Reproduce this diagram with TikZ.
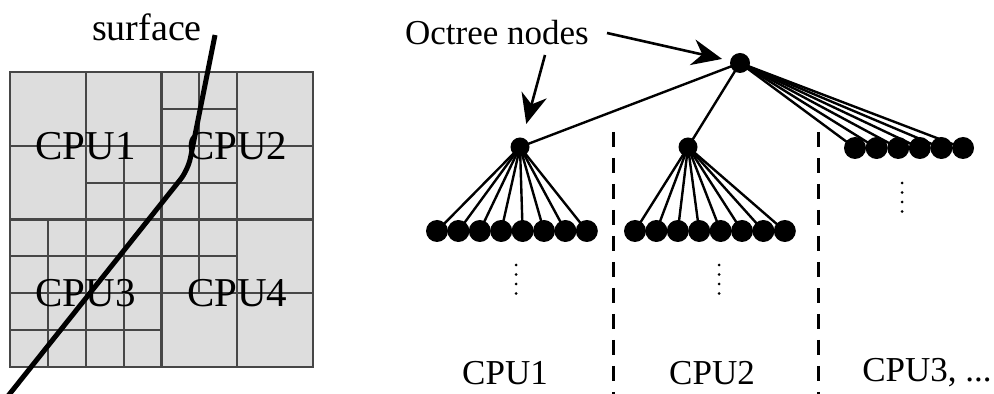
\documentclass[tikz,border=0pt]{standalone}
\usepackage{fontspec}
\setmainfont{Liberation Serif}
\definecolor{cellgray}{RGB}{221, 221, 221}
\definecolor{gridgray}{RGB}{70, 70, 70}
\usepackage{tikz}
\usetikzlibrary{arrows.meta}

\begin{document}
\begin{tikzpicture}[x=0.5pt, y=-0.5pt,
  onode/.style={circle, fill=black, inner sep=0pt, minimum size=10pt},
  leaf/.style={circle, fill=black, inner sep=0pt, minimum size=11pt},
  edge/.style={line width=1.2pt},
  pointer/.style={line width=1.3pt, -{Stealth[length=15pt, width=13pt]}},
  gridline/.style={gridgray, line width=1.1pt},
  gridlabel/.style={font=\fontsize{20.5}{24}\selectfont, inner sep=0pt},
  cpulabel/.style={font=\fontsize{17.5}{20}\selectfont, inner sep=0pt},
  divider/.style={line width=1.5pt, dash pattern=on 7.5pt off 5.5pt},
]
\useasboundingbox (0,0) rectangle (994,394);

% Domain split into four CPUs
\begin{scope}[shift={(10,72)}, x=18.9375pt, y=-18.4375pt]
  \fill[cellgray] (0,0) rectangle (8,8);
  \draw[gridline] (0,0) rectangle (8,8);
  \foreach \i/\a/\b in {1/4/8, 2/0/8, 3/2/8, 4/0/8, 5/0/6, 6/0/8}
    \draw[gridline] (\i,\a) -- (\i,\b);
  \foreach \j/\a/\b in {1/4/6, 2/0/8, 3/2/6, 4/0/8, 5/0/6, 6/0/8, 7/0/4}
    \draw[gridline] (\a,\j) -- (\b,\j);
  \node[gridlabel] (quadone) at (2,2) {CPU1};
  \node[gridlabel] (quadtwo) at (6,2) {CPU2};
  \node[gridlabel] (quadthree) at (2,6) {CPU3};
  \node[gridlabel] (quadfour) at (6,6) {CPU4};
\end{scope}

% Surface cutting through the domain
\node[font=\fontsize{19}{22}\selectfont, inner sep=0pt] (surflabel) at (147,27) {surface};
\draw[line width=2.5pt, rounded corners=6pt] (215,35) -- (188,170) -- (8,396);

% Octree
\node[onode] (root) at (740,63) {};
\node[onode, minimum size=9.5pt] (subone) at (520,147) {};
\node[onode, minimum size=9.5pt] (subtwo) at (688,147) {};
\foreach \k in {1,...,8} {
  \node[leaf] (la\k) at ({437+21.4*(\k-1)},231) {};
  \node[leaf] (lb\k) at ({635+21.4*(\k-1)},231) {};
  \draw[edge] (subone.center) -- (la\k.center);
  \draw[edge] (subtwo.center) -- (lb\k.center);
}
\foreach \k in {1,...,6} {
  \node[leaf] (lc\k) at ({855+21.6*(\k-1)},148) {};
  \draw[edge] (root.center) -- (lc\k.center);
}
\draw[edge] (root.center) -- (subone.center);
\draw[edge] (root.center) -- (subtwo.center);

% Labels and arrows
\node[cpulabel] (octlabel) at (497,33) {Octree nodes};
\coordinate (taila) at (545,55);
\coordinate (tailb) at (607,33);
\draw[pointer, shorten >=7pt] (taila) -- (subone);
\draw[pointer, shorten >=4pt] (tailb) -- (root);

% Deeper levels
\foreach \d in {0,...,3} {
  \fill (516,{265+9.5*\d}) circle (1.5);
  \fill (719,{265+9.5*\d}) circle (1.5);
  \fill (902,{183+9.5*\d}) circle (1.5);
}

% CPU partitions
\draw[divider] (613,132) -- (613,394);
\draw[divider] (818,132) -- (818,394);
\node[cpulabel] (cpuone) at (505,373) {CPU1};
\node[cpulabel] (cputwo) at (712,373) {CPU2};
\node[cpulabel] (cputhree) at (927,373) {CPU3, ...};
\end{tikzpicture}
\end{document}
